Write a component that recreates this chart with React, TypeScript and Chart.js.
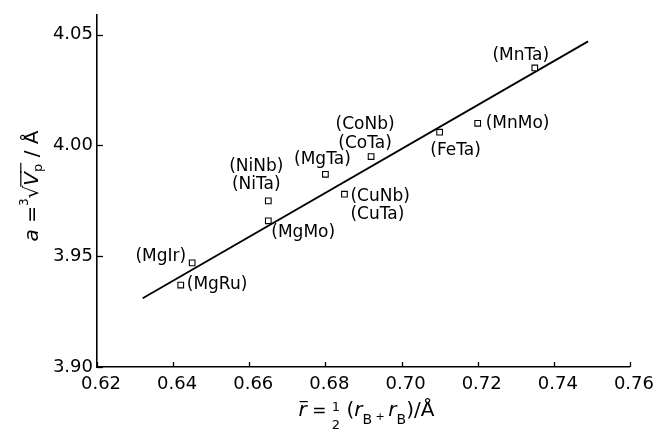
import React, { useEffect, useRef } from 'react';
import { Chart, registerables } from 'chart.js';

Chart.register(...registerables);

// ---- data ----
const compoundLabels: string[][] = [
  ['(MnTa)'],
  ['(MnMo)'],
  ['(FeTa)'],
  ['(CoNb)', '(CoTa)'],
  ['(MgTa)'],
  ['(NiNb)', '(NiTa)'],
  ['(MgMo)'],
  ['(CuNb)', '(CuTa)'],
  ['(MgIr)'],
  ['(MgRu)'],
];
const rMean = [0.735, 0.72, 0.71, 0.692, 0.68, 0.665, 0.665, 0.685, 0.645, 0.642];
const aLattice = [4.035, 4.01, 4.006, 3.995, 3.987, 3.975, 3.966, 3.978, 3.947, 3.937];
const fitR = [0.632, 0.749];
const fitA = [3.931, 4.047];
const xTickValues = [0.62, 0.64, 0.66, 0.68, 0.7, 0.72, 0.74, 0.76];
const yTickValues = [3.9, 3.95, 4.0, 4.05];

// ---- label placement (style, not data) ----
type LabelPos = { dx: number; dy: number; align: CanvasTextAlign; lh: number };
const labelPos: LabelPos[] = [
  { dx: -14, dy: -12, align: 'center', lh: 18 },
  { dx: 8, dy: 0, align: 'left', lh: 18 },
  { dx: 16, dy: 18, align: 'center', lh: 18 },
  { dx: -6, dy: -32, align: 'center', lh: 19 },
  { dx: -3, dy: -15, align: 'center', lh: 18 },
  { dx: -12, dy: -34, align: 'center', lh: 18 },
  { dx: 3, dy: 12, align: 'left', lh: 18 },
  { dx: 6, dy: 2, align: 'left', lh: 18 },
  { dx: -6, dy: -6, align: 'right', lh: 18 },
  { dx: 6, dy: 0, align: 'left', lh: 18 },
];

const FONT = '"DejaVu Sans", sans-serif';

type Seg = {
  t: string;
  size: number;
  italic?: boolean;
  dy?: number;
  bar?: boolean;
  vinc?: boolean;
  noAdvance?: boolean;
};

function setFont(ctx: CanvasRenderingContext2D, s: Seg) {
  ctx.font = `${s.italic ? 'italic ' : ''}${s.size}px ${FONT}`;
}

function drawRich(ctx: CanvasRenderingContext2D, segs: Seg[], cx: number, baseY: number) {
  let total = 0;
  segs.forEach((s) => {
    setFont(ctx, s);
    if (!s.noAdvance) total += ctx.measureText(s.t).width;
  });
  let x = cx - total / 2;
  ctx.textBaseline = 'alphabetic';
  ctx.textAlign = 'left';
  ctx.fillStyle = '#000';
  ctx.strokeStyle = '#000';
  segs.forEach((s) => {
    setFont(ctx, s);
    const w = ctx.measureText(s.t).width;
    const y = baseY + (s.dy || 0);
    ctx.fillText(s.t, x, y);
    if (s.bar) {
      ctx.lineWidth = 1.2;
      ctx.beginPath();
      ctx.moveTo(x + 1, y - s.size * 0.72);
      ctx.lineTo(x + w + 1, y - s.size * 0.72);
      ctx.stroke();
    }
    if (s.vinc) {
      ctx.lineWidth = 1.2;
      ctx.beginPath();
      ctx.moveTo(x - 1, baseY - 20 * 0.86);
      ctx.lineTo(x + w + 1, baseY - 20 * 0.86);
      ctx.stroke();
    }
    if (!s.noAdvance) x += w;
  });
}

const xTitle: Seg[] = [
  { t: 'r', size: 20, italic: true, bar: true },
  { t: ' = ', size: 17 },
  { t: '1', size: 13, dy: -5, noAdvance: true },
  { t: '2', size: 13, dy: 13 },
  { t: ' (', size: 20 },
  { t: 'r', size: 20, italic: true },
  { t: 'B', size: 14, dy: 8 },
  { t: ' + ', size: 11, dy: 4 },
  { t: 'r', size: 20, italic: true },
  { t: 'B', size: 14, dy: 8 },
  { t: ')', size: 20 },
  { t: '/Å', size: 20 },
];

const yTitle: Seg[] = [
  { t: 'a', size: 20, italic: true },
  { t: ' =', size: 20 },
  { t: '3', size: 12, dy: -10 },
  { t: '√', size: 20 },
  { t: 'V', size: 20, italic: true, vinc: true },
  { t: 'p', size: 13, dy: 4, vinc: true },
  { t: ' / Å', size: 20 },
];

const annotatePlugin = {
  id: 'annotate',
  afterDraw(chart: any) {
    const ctx: CanvasRenderingContext2D = chart.ctx;
    const xs = chart.scales.x;
    const ys = chart.scales.y;
    const area = chart.chartArea;
    ctx.save();
    ctx.strokeStyle = '#000';
    ctx.lineWidth = 1.3;
    // inward tick marks
    xTickValues.forEach((v) => {
      const px = Math.round(xs.getPixelForValue(v)) + 0.5;
      ctx.beginPath();
      ctx.moveTo(px, area.bottom);
      ctx.lineTo(px, area.bottom - 5);
      ctx.stroke();
    });
    yTickValues.forEach((v) => {
      const py = Math.round(ys.getPixelForValue(v)) + 0.5;
      ctx.beginPath();
      ctx.moveTo(area.left, py);
      ctx.lineTo(area.left + 6, py);
      ctx.stroke();
    });
    // point labels
    ctx.fillStyle = '#000';
    ctx.font = `17px ${FONT}`;
    ctx.textBaseline = 'middle';
    compoundLabels.forEach((lines, i) => {
      const px = xs.getPixelForValue(rMean[i]);
      const py = ys.getPixelForValue(aLattice[i]);
      const p = labelPos[i];
      ctx.textAlign = p.align;
      lines.forEach((ln, k) => {
        ctx.fillText(ln, px + p.dx, py + p.dy + k * p.lh);
      });
    });
    // axis titles
    drawRich(ctx, xTitle, (area.left + area.right) / 2 + 3, 416);
    ctx.save();
    ctx.translate(38, 186);
    ctx.rotate(-Math.PI / 2);
    drawRich(ctx, yTitle, 0, 0);
    ctx.restore();
    ctx.restore();
  },
};

export default function App() {
  const ref = useRef<HTMLCanvasElement | null>(null);
  useEffect(() => {
    if (!ref.current) return;
    const tickFont = { family: FONT, size: 18 };
    const chart = new Chart(ref.current, {
      type: 'scatter',
      data: {
        datasets: [
          {
            type: 'scatter',
            data: rMean.map((r, i) => ({ x: r, y: aLattice[i] })),
            pointStyle: 'rect',
            pointRadius: 4,
            borderColor: '#000',
            backgroundColor: '#fff',
            borderWidth: 1.1,
            order: 1,
          },
          {
            type: 'line',
            data: fitR.map((r, i) => ({ x: r, y: fitA[i] })),
            borderColor: '#000',
            borderWidth: 1.8,
            pointRadius: 0,
            fill: false,
            order: 2,
          } as any,
        ],
      },
      options: {
        responsive: false,
        animation: false,
        devicePixelRatio: 1,
        layout: { padding: { top: 14, right: 26, left: 0, bottom: 0 } },
        plugins: { legend: { display: false }, tooltip: { enabled: false } },
        scales: {
          x: {
            type: 'linear',
            min: 0.62,
            max: 0.76,
            afterBuildTicks: (s: any) => {
              s.ticks = xTickValues.map((v) => ({ value: v }));
            },
            afterFit: (s: any) => {
              s.height = 63;
            },
            ticks: {
              font: tickFont,
              color: '#000',
              padding: 7,
              labelOffset: 4,
              maxRotation: 0,
              autoSkip: false,
              callback: (v: any) => Number(v).toFixed(2),
            },
            grid: { display: false, drawTicks: false },
            border: { display: true, color: '#000', width: 1.6 },
          },
          y: {
            type: 'linear',
            min: 3.9,
            max: 4.059,
            afterBuildTicks: (s: any) => {
              s.ticks = yTickValues.map((v) => ({ value: v }));
            },
            afterFit: (s: any) => {
              s.width = 97;
            },
            ticks: {
              font: tickFont,
              color: '#000',
              padding: 4,
              autoSkip: false,
              callback: (v: any) => Number(v).toFixed(2),
            },
            grid: { display: false, drawTicks: false },
            border: { display: true, color: '#000', width: 1.6 },
          },
        },
      },
      plugins: [annotatePlugin],
    });
    return () => chart.destroy();
  }, []);
  return (
    <div style={{ position: 'absolute', left: 0, top: 0, width: 657, height: 430, background: '#fff' }}>
      <canvas ref={ref} width={657} height={430} />
    </div>
  );
}
